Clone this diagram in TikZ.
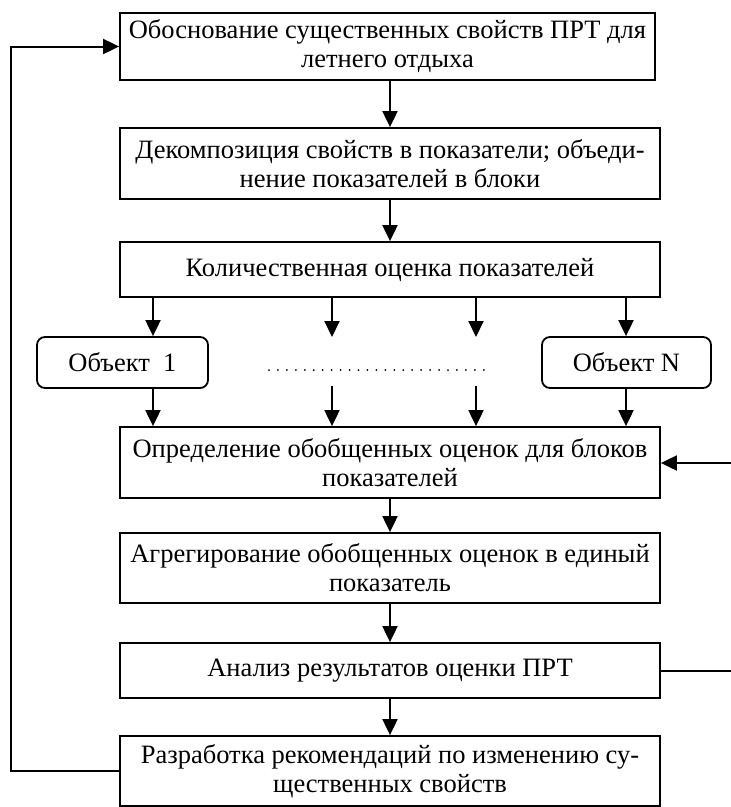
\documentclass[tikz,border=0pt]{standalone}
\usepackage{fontspec}
\setmainfont{Liberation Serif}
\usetikzlibrary{arrows.meta}
\tikzset{
  blok/.style={draw, line width=1.8pt, minimum width=540pt, align=center,
    inner sep=2pt, font=\fontsize{26.5}{29}\selectfont},
  obj/.style={draw, line width=1.8pt, rounded corners=8pt, minimum height=51pt,
    font=\fontsize{26.5}{29}\selectfont},
  arr/.style={line width=2pt, -{Triangle[length=16pt,width=15pt]}},
  lin/.style={line width=2pt},
}
\begin{document}
\begin{tikzpicture}[x=1pt,y=-1pt]
\useasboundingbox (0,0) rectangle (731,807);
% boxes
\node[blok, minimum width=535pt, minimum height=67pt] (obosn) at (387.5,46.5)
  {Обоснование существенных свойств ПРТ для\\летнего отдыха};
\node[blok, minimum height=71pt] (dekomp) at (390,163.5)
  {Декомпозиция свойств в показатели; объеди-\\нение показателей в блоки};
\node[blok, minimum height=55pt] (kolich) at (390,269.5)
  {Количественная оценка показателей};
\node[obj, minimum width=171pt] (ob1) at (122.5,362.5) {Объект~~1};
\node[obj, minimum width=169pt] (obN) at (626.5,362.5) {Объект N};
\node[blok, minimum height=71pt] (opred) at (390,462.5)
  {Определение обобщенных оценок для блоков\\показателей};
\node[blok, minimum height=70pt] (agreg) at (390,568)
  {Агрегирование обобщенных оценок в единый\\показатель};
\node[blok, minimum height=55pt] (analiz) at (390,670.5)
  {Анализ результатов оценки ПРТ};
\node[blok, minimum height=70pt] (razrab) at (390,771)
  {Разработка рекомендаций по изменению су-\\щественных свойств};
% columns
\coordinate (c1) at (153,0);
\coordinate (c2) at (332,0);
\coordinate (c3) at (476,0);
\coordinate (c4) at (626,0);
\coordinate (m2a) at (332,337);
\coordinate (m3a) at (476,337);
\coordinate (m2b) at (332,386);
\coordinate (m3b) at (476,386);
\coordinate (d1) at (269,370);
\coordinate (d2) at (484,370);
\coordinate (r1) at (731,463);
\coordinate (fb) at (11,0);
% main chain
\draw[arr] (obosn.south -| dekomp) -- (dekomp.north);
\draw[arr] (dekomp.south) -- (kolich.north);
\draw[arr] (kolich.south -| c1) -- (ob1.north -| c1);
\draw[arr] (kolich.south -| c2) -- (m2a);
\draw[arr] (kolich.south -| c3) -- (m3a);
\draw[arr] (kolich.south -| c4) -- (obN.north -| c4);
\draw[line width=2pt, line cap=round, dash pattern=on 0pt off 8.95pt] (d1) -- (d2);
\draw[arr] (ob1.south -| c1) -- (opred.north -| c1);
\draw[arr] (m2b) -- (opred.north -| c2);
\draw[arr] (m3b) -- (opred.north -| c3);
\draw[arr] (obN.south -| c4) -- (opred.north -| c4);
\draw[arr] (opred.south) -- (agreg.north);
\draw[arr] (agreg.south) -- (analiz.north);
\draw[arr] (analiz.south) -- (razrab.north);
% side lines
\draw[arr] (r1) -- (opred.east |- r1);
\draw[lin] (analiz.east) -- (analiz.east -| r1);
\draw[arr] (razrab.west) -| (fb |- obosn.west) -- (obosn.west);
\end{tikzpicture}
\end{document}
